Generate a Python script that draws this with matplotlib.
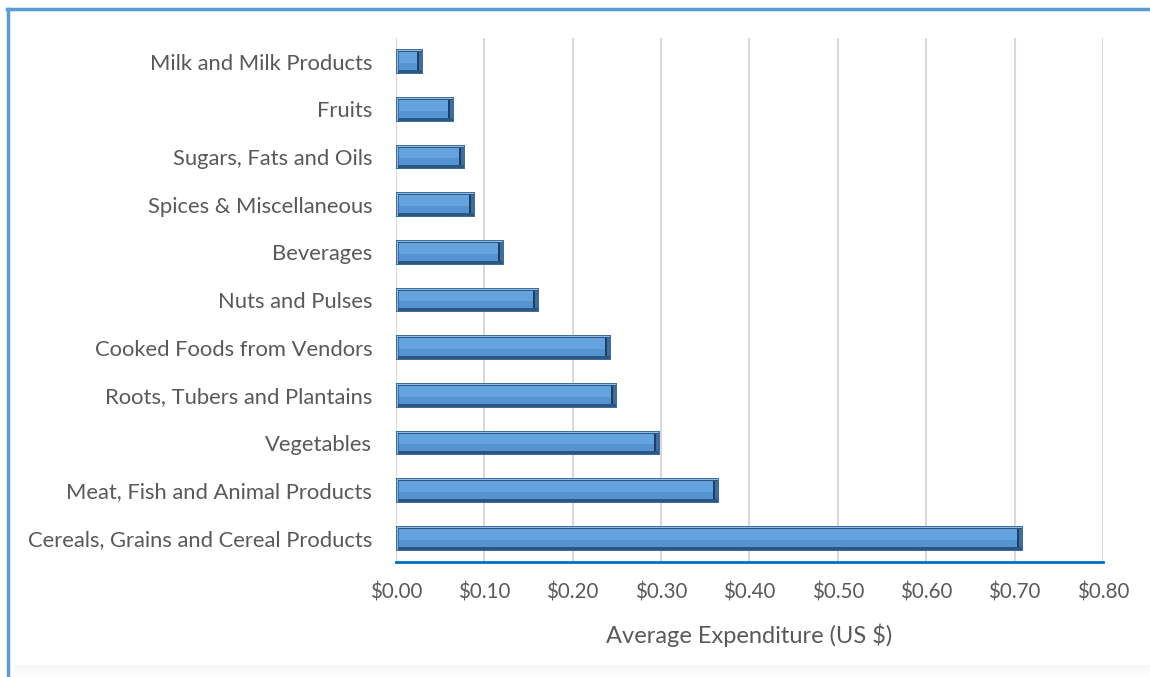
import numpy as np
import matplotlib
matplotlib.use("Agg")
import matplotlib.pyplot as plt
from matplotlib.lines import Line2D
from matplotlib.ticker import FuncFormatter

categories = [
    "Cereals, Grains and Cereal Products",
    "Meat, Fish and Animal Products",
    "Vegetables",
    "Roots, Tubers and Plantains",
    "Cooked Foods from Vendors",
    "Nuts and Pulses",
    "Beverages",
    "Spices & Miscellaneous",
    "Sugars, Fats and Oils",
    "Fruits",
    "Milk and Milk Products",
]
expenditure = [0.710, 0.365, 0.299, 0.250, 0.243, 0.162, 0.122, 0.089, 0.078, 0.066, 0.031]
x_ticks = [0.0, 0.1, 0.2, 0.3, 0.4, 0.5, 0.6, 0.7, 0.8]
x_label = "Average Expenditure (US $)"

plt.rcParams["font.family"] = ["Lato", "DejaVu Sans"]

fig = plt.figure(figsize=(11.5, 6.77), dpi=100)
ax = fig.add_axes([0.3443, 0.1699, 0.9591 - 0.3443, 0.9439 - 0.1699])

xmax = 0.8
n = len(categories)
ax.set_xlim(0, xmax)
ax.set_ylim(-0.5, n - 0.5)

y = np.arange(n)
vals = np.array(expenditure)
h = 0.52

# size of one pixel in data units, used for the bevel layers
bb = ax.get_position()
ux = xmax / (bb.width * fig.get_figwidth() * fig.dpi)
uy = n / (bb.height * fig.get_figheight() * fig.dpi)


def layer(left_in, right_in, top_in, bot_in, color, z):
    """Draw one inset layer of every bar; insets are given in pixels."""
    left = left_in * ux
    width = vals - (left_in + right_in) * ux
    height = h - (top_in + bot_in) * uy
    center = y + (bot_in - top_in) * uy / 2
    ax.barh(center, width, left=left, height=height, color=color, lw=0, zorder=z)


layer(0, 0, 0, 0, "#3d6e9c", 3.0)        # outer border
layer(1, 1, 1, 1, "#8dbbe8", 3.1)        # light top/left rim
layer(2, 1, 2, 1, "#2c5784", 3.2)        # dark bottom/right shadow
layer(3, 4, 3, 4, "#5494d0", 3.3)        # bar face
layer(3, 4, 3, 11, "#64a3dd", 3.4)       # lighter upper face
layer(2, 0, 3, 4, "#3d6e9c", 3.25)       # thin left inner line
# dark end cap near the right edge
cap_w = 2 * ux
ax.barh(y + (4 - 3) * uy / 2, np.full_like(vals, cap_w), left=vals - 6 * ux,
        height=h - 7 * uy, color="#1d3f66", lw=0, zorder=3.5)

ax.set_yticks(y)
ax.set_yticklabels(categories)
ax.set_xticks(x_ticks)
ax.xaxis.set_major_formatter(FuncFormatter(lambda v, p: f"${v:.2f}"))

ax.grid(axis="x", color="#d9d9d9", lw=1.5, zorder=0)
ax.set_axisbelow(True)
for s in ["top", "right", "left"]:
    ax.spines[s].set_visible(False)
ax.spines["bottom"].set_color("#0070c0")
ax.spines["bottom"].set_linewidth(2)
ax.spines["bottom"].set_zorder(4)

ax.tick_params(axis="both", length=0, labelcolor="#595959")
ax.tick_params(axis="x", pad=15, labelsize=14.8)
ax.tick_params(axis="y", pad=17, labelsize=15.8)
ax.set_xlabel(x_label, fontsize=17, color="#595959", labelpad=15)

# frame of the chart area: blue top and left edges, soft shadow at the bottom
fig.add_artist(Line2D([0.0072, 0.0072], [0.0, 0.9870], transform=fig.transFigure,
                      color="#5b9bd5", lw=2.5))
fig.add_artist(Line2D([0.0060, 1.0], [0.9870, 0.9870], transform=fig.transFigure,
                      color="#5b9bd5", lw=2.5))
shade = fig.add_axes([0.012, 0.0, 0.988, 0.018])
grad = np.linspace(1.0, 0.0, 20).reshape(-1, 1)
shade.imshow(grad, aspect="auto", cmap="Greys", vmin=0, vmax=12,
             extent=[0, 1, 0, 1])
shade.set_axis_off()

fig.savefig("out.png", dpi=100)
